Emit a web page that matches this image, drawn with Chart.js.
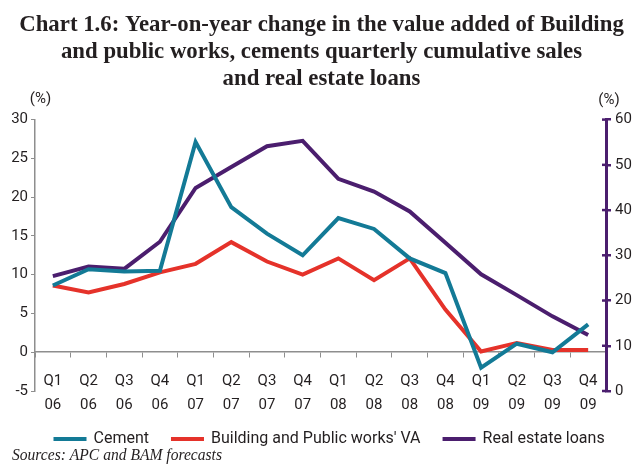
<!DOCTYPE html>
<html>
<head>
<meta charset="utf-8">
<script src="https://cdn.jsdelivr.net/npm/chart.js@4.4.0/dist/chart.umd.min.js"></script>
<style>
  html, body { margin: 0; padding: 0; background: #ffffff; }
  #c { display: block; }
</style>
</head>
<body>
<canvas id="c" width="643" height="467"></canvas>
<script>
// Quarter / year tick labels
const quarters = ['Q1','Q2','Q3','Q4','Q1','Q2','Q3','Q4','Q1','Q2','Q3','Q4','Q1','Q2','Q3','Q4'];
const years    = ['06','06','06','06','07','07','07','07','08','08','08','08','09','09','09','09'];

// Year-on-year change, % (left axis)
const cement     = [8.6, 10.7, 10.4, 10.5, 27.1, 18.7, 15.3, 12.5, 17.3, 15.9, 12.1, 10.2, -2.0, 1.1, 0.0, 3.6];
const buildingVA = [8.6, 7.7, 8.8, 10.3, 11.4, 14.2, 11.7, 10.0, 12.1, 9.3, 12.1, 5.5, 0.1, 1.2, 0.3, 0.3];

// Year-on-year change, % (right axis)
const realEstateLoans = [25.4, 27.5, 27.0, 33.0, 44.9, 49.5, 54.1, 55.3, 46.9, 44.1, 39.7, 32.8, 25.8, 21.2, 16.5, 12.4];

const TEAL = '#137A96';
const RED = '#E5322A';
const PURPLE = '#4B1E6E';
const AXIS_GREY = '#8E8E8E';
const INK = '#231F20';
const SANS = 'Roboto, "Liberation Sans", sans-serif';
const SERIF = '"Liberation Serif", "DejaVu Serif", serif';

// Unit captions, inner ticks on the right axis, legend row and source line
const extras = {
  id: 'extras',
  afterDraw(chart) {
    const { ctx, chartArea } = chart;
    const r = chart.scales.y2;
    ctx.save();

    // short ticks on the inner side of the right axis
    ctx.strokeStyle = PURPLE;
    ctx.lineWidth = 2.5;
    r.ticks.forEach((t, i) => {
      const y = r.getPixelForTick(i);
      ctx.beginPath();
      ctx.moveTo(chartArea.right - 4, y);
      ctx.lineTo(chartArea.right, y);
      ctx.stroke();
    });

    // unit captions above both axes
    ctx.fillStyle = INK;
    ctx.font = '15px ' + SANS;
    ctx.textAlign = 'center';
    ctx.textBaseline = 'middle';
    ctx.fillText('(%)', chartArea.left + 5.5, chartArea.top - 20);
    ctx.fillText('(%)', chartArea.right + 3, chartArea.top - 19);

    // legend row built from the datasets
    ctx.font = '16px ' + SANS;
    ctx.textAlign = 'left';
    ctx.textBaseline = 'middle';
    ctx.lineCap = 'butt';
    const legendY = 438.5;
    let x = 53.5;
    chart.data.datasets.forEach(ds => {
      ctx.strokeStyle = ds.borderColor;
      ctx.lineWidth = 4;
      ctx.beginPath();
      ctx.moveTo(x, legendY + 0.5);
      ctx.lineTo(x + 33, legendY + 0.5);
      ctx.stroke();
      ctx.fillStyle = INK;
      ctx.fillText(ds.label, x + 40, legendY);
      x += 40 + ctx.measureText(ds.label).width + 22;
    });

    // source line
    ctx.font = 'italic 16.5px ' + SERIF;
    ctx.textAlign = 'left';
    ctx.textBaseline = 'alphabetic';
    ctx.fillStyle = INK;
    ctx.fillText('Sources: APC and BAM forecasts', 12, 460, 210);
    ctx.restore();
  }
};

new Chart(document.getElementById('c'), {
  type: 'line',
  data: {
    labels: quarters.map((q, i) => [q, years[i]]),
    datasets: [
      { label: 'Cement', data: cement, yAxisID: 'y', borderColor: TEAL, backgroundColor: TEAL },
      { label: "Building and Public works' VA", data: buildingVA, yAxisID: 'y', borderColor: RED, backgroundColor: RED },
      { label: 'Real estate loans', data: realEstateLoans, yAxisID: 'y2', borderColor: PURPLE, backgroundColor: PURPLE }
    ]
  },
  options: {
    responsive: false,
    animation: false,
    devicePixelRatio: 1,
    layout: { padding: { top: 0, left: 0, right: 0, bottom: 76 } },
    elements: {
      line: { borderWidth: 4, tension: 0, fill: false },
      point: { radius: 0, hoverRadius: 0 }
    },
    scales: {
      x: {
        type: 'category',
        position: { y: 0 },
        offset: true,
        grid: { offset: true, drawOnChartArea: false, drawTicks: true, tickLength: 5, color: AXIS_GREY, lineWidth: 1 },
        border: { display: true, color: AXIS_GREY, width: 1.5 },
        ticks: { color: INK, font: { family: SANS, size: 15, lineHeight: 1.6 }, padding: 12, maxRotation: 0, autoSkip: false }
      },
      y: {
        position: 'left',
        min: -5,
        max: 30,
        ticks: { stepSize: 5, color: INK, font: { family: SANS, size: 15 }, padding: 3 },
        grid: { drawOnChartArea: false, tickLength: 4, color: AXIS_GREY, lineWidth: 1 },
        border: { color: AXIS_GREY, width: 1.5 },
        afterFit(scale) { scale.width = 35; }
      },
      y2: {
        position: 'right',
        min: 0,
        max: 60,
        ticks: { stepSize: 10, color: INK, font: { family: SANS, size: 15 }, padding: 4 },
        grid: { drawOnChartArea: false, tickLength: 5, color: PURPLE, lineWidth: 2.5 },
        border: { color: PURPLE, width: 3 },
        afterFit(scale) { scale.width = 37; }
      }
    },
    plugins: {
      title: {
        display: true,
        text: [
          'Chart 1.6: Year-on-year change in the value added of Building',
          'and public works, cements quarterly cumulative sales',
          'and real estate loans'
        ],
        color: INK,
        font: { family: SERIF, size: 22.8, weight: 'bold', lineHeight: 1.193 },
        padding: { top: 11.3, bottom: 26.7 }
      },
      legend: { display: false },
      tooltip: { enabled: false }
    }
  },
  plugins: [extras]
});
</script>
</body>
</html>
